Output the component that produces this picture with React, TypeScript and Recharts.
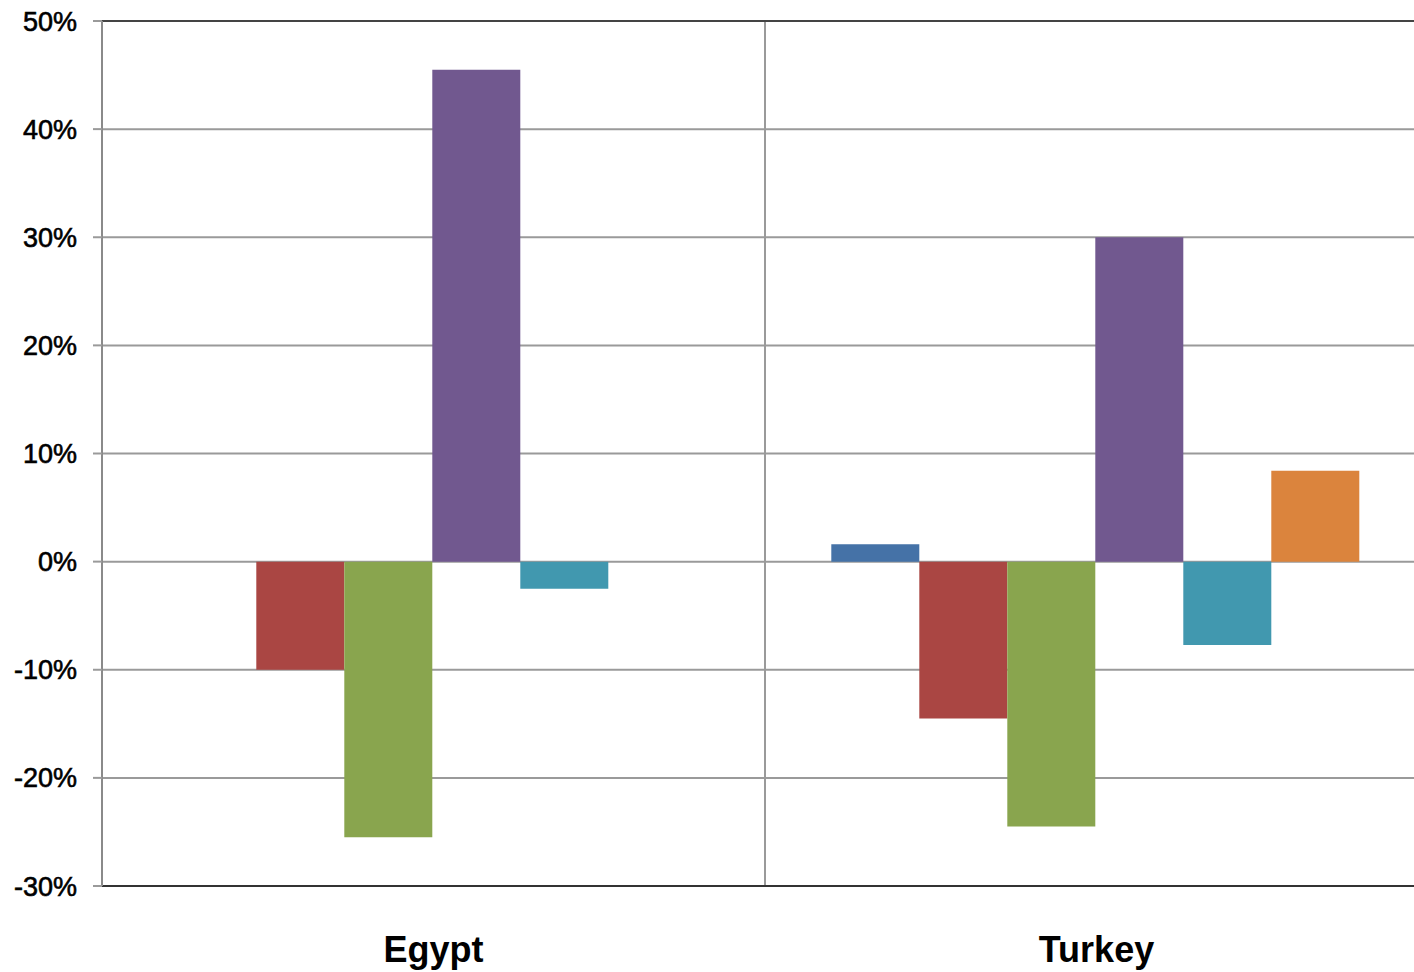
import React from 'react';
import { BarChart, Bar, XAxis, YAxis, CartesianGrid, ReferenceLine } from 'recharts';

const countries = ['Egypt', 'Turkey'];
const seriesNames = ['s1', 's2', 's3', 's4', 's5', 's6'];
const seriesColors = ['#4572A7', '#AA4643', '#89A54E', '#71588F', '#4198AF', '#DB843D'];
// values per series, one entry per country (Egypt, Turkey)
const s1 = [null, 0.016];
const s2 = [-0.1, -0.145];
const s3 = [-0.255, -0.245];
const s4 = [0.455, 0.3];
const s5 = [-0.025, -0.077];
const s6 = [null, 0.084];
const yTicks = [-0.3, -0.2, -0.1, 0, 0.1, 0.2, 0.3, 0.4, 0.5];

const seriesValues = [s1, s2, s3, s4, s5, s6];

const data = countries.map((name, i) => {
  const row: Record<string, any> = { name };
  seriesNames.forEach((s, j) => {
    row[s] = seriesValues[j][i];
  });
  return row;
});

const App: React.FC = () => {
  return (
    <div style={{ position: 'absolute', left: 0, top: 0, width: 1414, height: 972, overflow: 'hidden', background: '#fff' }}>
      {/* plot runs a little past the right edge of the window, as in the source */}
      <BarChart
        width={1428}
        height={972}
        data={data}
        margin={{ top: 21, right: 0, bottom: 0, left: 0 }}
        barCategoryGap="10%"
        barGap={0}
      >
        <CartesianGrid
          stroke="#9a9a9a"
          strokeWidth={2}
          horizontal={true}
          vertical={true}
          verticalCoordinatesGenerator={({ offset }: any) => [offset.left + offset.width / 2]}
        />
        <XAxis
          dataKey="name"
          height={86}
          tickLine={false}
          tickMargin={44}
          axisLine={{ stroke: '#333', strokeWidth: 2 }}
          tick={{ fill: '#000', fontSize: 36, fontWeight: 'bold', fontFamily: 'Liberation Sans, Arial, sans-serif' }}
        />
        <YAxis
          width={102}
          domain={[-0.3, 0.5]}
          ticks={yTicks}
          interval={0}
          tickSize={9}
          tickMargin={16}
          tickFormatter={(v: number) => `${Math.round(v * 100)}%`}
          axisLine={{ stroke: '#8a8a8a', strokeWidth: 2 }}
          tickLine={{ stroke: '#9a9a9a', strokeWidth: 2 }}
          tick={{ fill: '#000', stroke: '#000', strokeWidth: 0.6, fontSize: 27, fontFamily: 'Liberation Sans, Arial, sans-serif' }}
        />
        <ReferenceLine y={0.5} stroke="#444" strokeWidth={2} />
        {seriesNames.map((s, j) => (
          <Bar key={s} dataKey={s} fill={seriesColors[j]} isAnimationActive={false} />
        ))}
      </BarChart>
    </div>
  );
};

export default App;
